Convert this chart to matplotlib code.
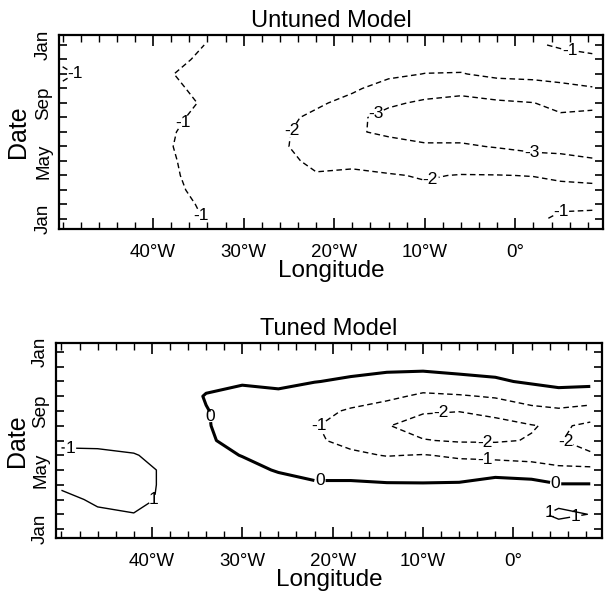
import numpy as np
import matplotlib
matplotlib.use('Agg')
import matplotlib.pyplot as plt
from matplotlib.ticker import MultipleLocator

plt.rcParams['font.family'] = ['Liberation Sans', 'DejaVu Sans']

# grid: longitude (deg E) and month (0 = Jan ... 12 = Jan)
lon = [-50, -46, -42, -38, -34, -30, -26, -22, -18, -14, -10, -6, -2, 2, 5, 8.5]
months = list(range(13))

# anomaly, one row per longitude, Jan..Jan
untuned = [
    [-0.7, -0.7, -0.7, -0.7, -0.7, -0.7, -0.7, -0.7, -0.72, -0.9, -1.1, -0.9, -0.7],
    [-0.72, -0.72, -0.72, -0.72, -0.72, -0.72, -0.72, -0.72, -0.72, -0.78, -0.8, -0.78, -0.72],
    [-0.78, -0.78, -0.78, -0.78, -0.78, -0.78, -0.78, -0.78, -0.78, -0.8, -0.85, -0.8, -0.78],
    [-0.8, -0.8, -0.9, -0.95, -0.97, -0.99, -0.97, -0.9, -0.75, -0.92, -0.99, -0.88, -0.8],
    [-1.03, -1.1, -1.15, -1.15, -1.15, -1.18, -1.18, -1.15, -1.1, -1.12, -1.12, -1.1, -1.02],
    [-1.2, -1.25, -1.3, -1.4, -1.5, -1.55, -1.55, -1.5, -1.4, -1.35, -1.3, -1.25, -1.2],
    [-1.3, -1.35, -1.45, -1.6, -1.8, -1.9, -1.85, -1.75, -1.6, -1.5, -1.45, -1.35, -1.3],
    [-1.35, -1.45, -1.6, -1.95, -2.15, -2.3, -2.35, -2.2, -1.85, -1.6, -1.5, -1.4, -1.35],
    [-1.35, -1.45, -1.7, -1.9, -2.12, -2.6, -2.9, -2.85, -2.3, -1.85, -1.6, -1.45, -1.35],
    [-1.35, -1.5, -1.8, -1.95, -2.3, -2.7, -3.15, -3.2, -2.9, -2.4, -1.8, -1.55, -1.35],
    [-1.35, -1.55, -1.9, -2.05, -2.4, -2.9, -3.3, -3.35, -3.1, -2.7, -2.02, -1.6, -1.35],
    [-1.35, -1.55, -1.8, -1.97, -2.4, -2.9, -3.3, -3.4, -3.2, -2.8, -2.05, -1.6, -1.35],
    [-1.3, -1.5, -1.8, -1.98, -2.5, -3.05, -3.4, -3.35, -3.1, -2.6, -1.75, -1.5, -1.3],
    [-1.1, -1.4, -1.75, -2.02, -2.7, -3.2, -3.5, -3.3, -3.02, -2.3, -1.8, -1.4, -1.1],
    [-0.9, -1.1, -1.7, -2.2, -2.8, -3.2, -3.45, -3.15, -2.7, -2.2, -1.7, -1.3, -0.9],
    [-0.85, -1.1, -1.75, -2.3, -2.9, -3.4, -3.6, -3.3, -2.7, -2.05, -1.6, -1.1, -0.85],
]

tuned = [
    [0.5, 0.6, 0.75, 1.15, 1.3, 1.2, 0.8, 0.6, 0.5, 0.45, 0.45, 0.45, 0.5],
    [0.55, 0.85, 1.15, 1.3, 1.35, 1.2, 0.75, 0.6, 0.5, 0.45, 0.45, 0.5, 0.55],
    [0.6, 0.98, 1.2, 1.25, 1.25, 1.05, 0.7, 0.55, 0.5, 0.45, 0.45, 0.5, 0.6],
    [0.55, 0.8, 0.85, 0.85, 0.85, 0.7, 0.5, 0.4, 0.35, 0.3, 0.35, 0.45, 0.55],
    [0.5, 0.7, 0.65, 0.5, 0.35, 0.2, 0.06, 0.04, 0.02, -0.03, 0.12, 0.35, 0.5],
    [0.45, 0.6, 0.55, 0.4, 0.2, -0.02, -0.15, -0.25, -0.2, -0.15, 0.05, 0.3, 0.45],
    [0.4, 0.55, 0.5, 0.25, -0.05, -0.35, -0.5, -0.5, -0.4, -0.15, 0.15, 0.3, 0.4],
    [0.35, 0.5, 0.45, 0.1, -0.25, -0.6, -0.85, -0.95, -0.75, -0.4, 0.02, 0.25, 0.35],
    [0.35, 0.5, 0.45, 0.1, -0.25, -0.8, -1.3, -1.35, -1.1, -0.6, -0.1, 0.2, 0.35],
    [0.3, 0.45, 0.4, 0.05, -0.3, -1.05, -1.75, -1.95, -1.55, -0.75, -0.25, 0.15, 0.3],
    [0.3, 0.4, 0.35, 0.05, -0.35, -0.95, -1.95, -2.4, -1.9, -1.2, -0.35, 0.15, 0.3],
    [0.3, 0.4, 0.35, 0.1, -0.5, -1.15, -2.1, -2.4, -1.98, -1.1, -0.15, 0.15, 0.3],
    [0.35, 0.5, 0.45, 0.35, -0.35, -1.3, -2.1, -2.3, -1.75, -0.9, -0.1, 0.25, 0.35],
    [0.5, 0.75, 0.6, 0.3, -0.5, -1.4, -1.95, -2.05, -1.3, -0.5, 0.1, 0.35, 0.5],
    [0.6, 1.2, 0.7, 0.05, -0.75, -1.6, -1.95, -1.85, -1.15, -0.35, 0.25, 0.5, 0.6],
    [0.7, 0.98, 0.6, 0.05, -0.75, -1.9, -2.3, -2.2, -1.4, -0.4, 0.2, 0.5, 0.7],
]

xtick_vals = [-40, -30, -20, -10, 0]
xtick_labels = ['40°W', '30°W', '20°W', '10°W', '0°']
ytick_vals = [0, 4, 8, 12]
ytick_labels = ['Jan', 'May', 'Sep', 'Jan']

# where the inline contour labels sit (lon, month)
untuned_label_pos = [(-47, 9.9), (-36.5, 6.6), (-34, 0.4), (6, 11.4), (4.9, 0.76),
                     (-23.7, 5.8), (-9.4, 2.8), (-15.3, 7.2), (1.8, 4.66)]
tuned_neg_pos = [(-21.8, 7.2), (-3.2, 4.7), (-8, 7.85), (-3.2, 5.95), (5.8, 6.0)]
tuned_zero_pos = [(-33.6, 7.6), (-21.4, 3.2), (4.7, 3.2)]
tuned_pos_pos = [(-49, 5.55), (-39.8, 2.0), (3.8, 1.3), (7.0, 0.5)]

dash = (0, (4, 2.5))


def style_axes(ax, title, xlim, ylim, ylab_x):
    ax.set_xlim(*xlim)
    ax.set_ylim(*ylim)
    ax.set_xticks(xtick_vals)
    ax.set_xticklabels(xtick_labels)
    ax.set_yticks(ytick_vals)
    ax.set_yticklabels(ytick_labels, rotation=90, va='center')
    ax.xaxis.set_minor_locator(MultipleLocator(2))
    ax.yaxis.set_minor_locator(MultipleLocator(1))
    ax.tick_params(which='both', direction='in', top=True, right=True, labelsize=13.5)
    ax.tick_params(axis='x', which='major', length=8, width=1.2, pad=11)
    ax.tick_params(axis='x', which='minor', length=5, width=1.0)
    ax.tick_params(axis='y', which='both', length=6, width=1.2, pad=5)
    for s in ax.spines.values():
        s.set_linewidth(1.6)
    ax.set_title(title, fontsize=17, pad=6)
    ax.set_xlabel('Longitude', fontsize=17.5, labelpad=-1)
    ax.set_ylabel('Date', fontsize=18)
    ax.yaxis.set_label_coords(ylab_x, 0.5)


def flat_labels(texts):
    # the labels in the original stay upright
    for t in texts:
        t.set_rotation(0)


fig = plt.figure(figsize=(6.05, 6.01), dpi=100)

ax1 = fig.add_axes([0.0975, 0.619, 0.8995, 0.3228])
Z1 = np.array(untuned).T
cs1 = ax1.contour(lon, months, Z1, levels=[-3, -2, -1], colors='k',
                  linewidths=1.0, linestyles=[dash])
flat_labels(ax1.clabel(cs1, fmt='%d', fontsize=12.5, inline=True, inline_spacing=1,
                       manual=untuned_label_pos))
style_axes(ax1, 'Untuned Model', (-50.4, 9.7), (-0.69, 12.69), -0.054)

ax2 = fig.add_axes([0.0926, 0.1048, 0.9025, 0.3245])
Z2 = np.array(tuned).T
cs_neg = ax2.contour(lon, months, Z2, levels=[-2, -1], colors='k',
                     linewidths=1.0, linestyles=[dash])
cs_zero = ax2.contour(lon, months, Z2, levels=[0], colors='k',
                      linewidths=2.2, linestyles='solid')
cs_pos = ax2.contour(lon, months, Z2, levels=[1], colors='k',
                     linewidths=1.0, linestyles='solid')
flat_labels(ax2.clabel(cs_neg, fmt='%d', fontsize=12.5, inline=True, inline_spacing=1,
                       manual=tuned_neg_pos))
flat_labels(ax2.clabel(cs_zero, fmt='%d', fontsize=12.5, inline=True, inline_spacing=1,
                       manual=tuned_zero_pos))
flat_labels(ax2.clabel(cs_pos, fmt='%d', fontsize=12.5, inline=True, inline_spacing=1,
                       manual=tuned_pos_pos))
style_axes(ax2, 'Tuned Model', (-50.6, 9.8), (-0.61, 12.61), -0.049)

fig.savefig('out.png', dpi=100)
